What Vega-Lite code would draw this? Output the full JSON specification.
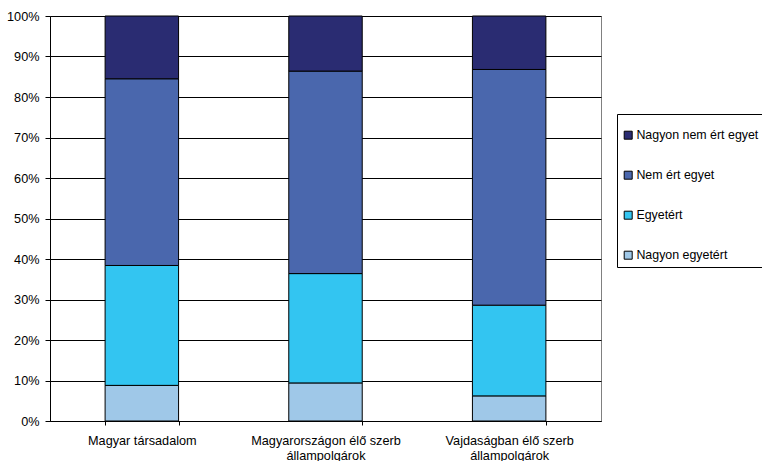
{
  "$schema": "https://vega.github.io/schema/vega-lite/v6.json",
  "width": 551,
  "height": 405,
  "autosize": {"type": "none"},
  "padding": {"left": 50, "top": 16, "right": 161, "bottom": 40},
  "background": "white",
  "config": {
    "font": "Liberation Sans",
    "view": {"stroke": "#808080", "strokeWidth": 1},
    "axis": {"labelFont": "Liberation Sans", "labelFontSize": 12.7, "labelColor": "black", "domainColor": "black", "tickColor": "black", "gridColor": "black", "gridOpacity": 1, "gridWidth": 1, "tickSize": 5},
    "legend": {"labelFont": "Liberation Sans", "labelFontSize": 12.4, "labelColor": "black"}
  },
  "data": {
    "values": [
      {"group": "Magyar társadalom", "answer": "Nagyon egyetért", "ord": 1, "pct": 8.8},
      {"group": "Magyar társadalom", "answer": "Egyetért", "ord": 2, "pct": 29.6},
      {"group": "Magyar társadalom", "answer": "Nem ért egyet", "ord": 3, "pct": 46.1},
      {"group": "Magyar társadalom", "answer": "Nagyon nem ért egyet", "ord": 4, "pct": 15.5},
      {"group": "Magyarországon élő szerb állampolgárok", "answer": "Nagyon egyetért", "ord": 1, "pct": 9.4},
      {"group": "Magyarországon élő szerb állampolgárok", "answer": "Egyetért", "ord": 2, "pct": 27.0},
      {"group": "Magyarországon élő szerb állampolgárok", "answer": "Nem ért egyet", "ord": 3, "pct": 50.0},
      {"group": "Magyarországon élő szerb állampolgárok", "answer": "Nagyon nem ért egyet", "ord": 4, "pct": 13.6},
      {"group": "Vajdaságban élő szerb állampolgárok", "answer": "Nagyon egyetért", "ord": 1, "pct": 6.2},
      {"group": "Vajdaságban élő szerb állampolgárok", "answer": "Egyetért", "ord": 2, "pct": 22.4},
      {"group": "Vajdaságban élő szerb állampolgárok", "answer": "Nem ért egyet", "ord": 3, "pct": 58.2},
      {"group": "Vajdaságban élő szerb állampolgárok", "answer": "Nagyon nem ért egyet", "ord": 4, "pct": 13.2}
    ]
  },
  "mark": {"type": "bar", "stroke": "black", "strokeWidth": 1},
  "encoding": {
    "x": {
      "field": "group",
      "type": "nominal",
      "sort": null,
      "title": null,
      "scale": {"paddingInner": 0.6, "paddingOuter": 0.3},
      "axis": {
        "labelAngle": 0,
        "tickBand": "extent",
        "tickSize": 4,
        "labelPadding": 9,
        "labelLineHeight": 15,
        "labelExpr": "split(replace(datum.label, ' szerb ', ' szerb|'), '|')",
        "grid": false
      }
    },
    "y": {
      "field": "pct",
      "type": "quantitative",
      "stack": "normalize",
      "title": null,
      "scale": {"domain": [0, 1], "nice": false},
      "axis": {"format": ".0%", "values": [0, 0.1, 0.2, 0.3, 0.4, 0.5, 0.6, 0.7, 0.8, 0.9, 1], "grid": true, "labelPadding": 6, "tickSize": 5}
    },
    "order": {"field": "ord", "type": "quantitative"},
    "color": {
      "field": "answer",
      "type": "nominal",
      "title": null,
      "scale": {
        "domain": ["Nagyon nem ért egyet", "Nem ért egyet", "Egyetért", "Nagyon egyetért"],
        "range": ["#2A2C72", "#4A67AD", "#33C5F1", "#9FC8E8"]
      },
      "legend": {
        "orient": "none",
        "legendX": 567,
        "legendY": 98,
        "title": " ",
        "titleFontSize": 7,
        "titlePadding": 3,
        "padding": 5,
        "strokeColor": "black",
        "fillColor": "white",
        "symbolType": "square",
        "symbolSize": 64,
        "symbolStrokeColor": "black",
        "symbolStrokeWidth": 1,
        "symbolOpacity": 1,
        "labelOffset": 2,
        "rowPadding": 27
      }
    }
  }
}
